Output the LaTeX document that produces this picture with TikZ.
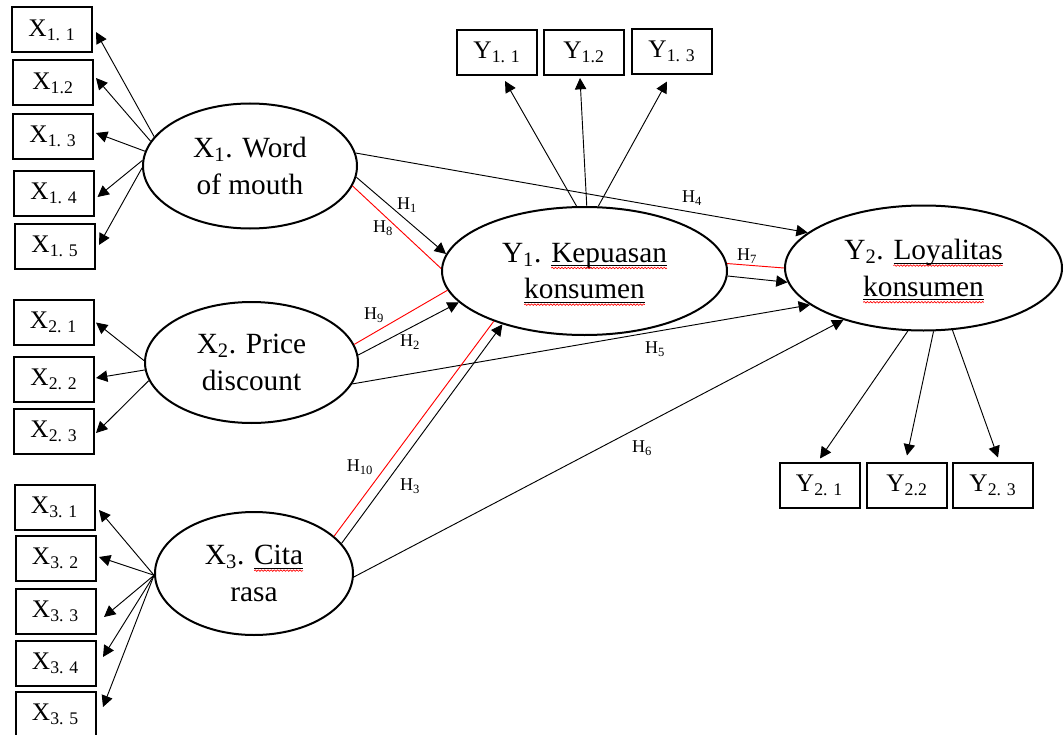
\documentclass[tikz,border=0pt]{standalone}
\usepackage{fontspec}
\setmainfont{Liberation Serif}
\usetikzlibrary{shapes.geometric,arrows.meta,calc,decorations.pathmorphing}
\newsavebox\spbox
\newlength\spw
\newcommand\spell[1]{\sbox\spbox{#1}\setlength\spw{\wd\spbox}\rlap{\usebox\spbox}\tikz[baseline=0pt,x=1pt,y=1pt]{\useasboundingbox (0pt,0pt) rectangle (\spw,1pt); \draw[line width=0.55pt,black] (0pt,-2.4pt) -- (\spw,-2.4pt); \draw[red,line width=0.5pt,decorate,decoration={snake,amplitude=0.55pt,segment length=2.4pt}] (0pt,-4.4pt) -- (\spw,-4.4pt);}}
\tikzset{
  lat/.style={ellipse, draw, line width=1.5pt, inner sep=0pt, align=center, font=\fontsize{22}{27.5}\selectfont},
  ind/.style={draw, line width=1.5pt, minimum width=60pt, minimum height=33.75pt, inner sep=0pt, font=\fontsize{19}{22}\selectfont},
  arr/.style={-{Triangle[length=8.5pt,width=8.5pt]}, line width=0.7pt},
  redln/.style={draw=red, line width=0.7pt},
  hl/.style={font=\fontsize{13.5}{15}\selectfont, inner sep=0pt}
}
\begin{document}
\begin{tikzpicture}[x=0.75pt,y=-0.75pt]
\useasboundingbox[fill=white] (0,0) rectangle (1064,735);
% latent variables
\node[lat, minimum width=160.5pt, minimum height=93.75pt] (X1) at (250,166) {X\textsubscript{1}. Word\\of mouth};
\node[lat, minimum width=159.75pt, minimum height=90.75pt] (X2) at (251.5,362.5) {X\textsubscript{2}. Price\\discount};
\node[lat, minimum width=148.5pt, minimum height=92.25pt] (X3) at (254,573.5) {X\textsubscript{3}. \spell{Cita}\\rasa};
\node[lat, minimum width=213.75pt, minimum height=96pt] (Y1) at (584.5,271) {Y\textsubscript{1}. \spell{Kepuasan}\\\spell{konsumen}};
\node[lat, minimum width=207.75pt, minimum height=93.75pt] (Y2) at (923.5,268) {Y\textsubscript{2}. \spell{Loyalitas}\\\spell{konsumen}};
% indicators
\node[ind] (x11) at (52,30) {X\textsubscript{1. 1}};
\node[ind] (x12) at (53,83) {X\textsubscript{1.2}};
\node[ind] (x13) at (53,136.5) {X\textsubscript{1. 3}};
\node[ind] (x14) at (54,193.5) {X\textsubscript{1. 4}};
\node[ind] (x15) at (55,246.5) {X\textsubscript{1. 5}};
\node[ind] (x21) at (53.5,322.5) {X\textsubscript{2. 1}};
\node[ind] (x22) at (54,379) {X\textsubscript{2. 2}};
\node[ind] (x23) at (54,431.5) {X\textsubscript{2. 3}};
\node[ind] (x31) at (54.5,507) {X\textsubscript{3. 1}};
\node[ind] (x32) at (55.5,558.5) {X\textsubscript{3. 2}};
\node[ind] (x33) at (55.5,611.5) {X\textsubscript{3. 3}};
\node[ind] (x34) at (55.5,663.5) {X\textsubscript{3. 4}};
\node[ind] (x35) at (55.5,714) {X\textsubscript{3. 5}};
\node[ind] (y11) at (497,52.5) {Y\textsubscript{1. 1}};
\node[ind] (y12) at (584,52.5) {Y\textsubscript{1.2}};
\node[ind] (y13) at (672,51.5) {Y\textsubscript{1. 3}};
\node[ind] (y21) at (819.5,485) {Y\textsubscript{2. 1}};
\node[ind] (y22) at (907,485) {Y\textsubscript{2.2}};
\node[ind] (y23) at (993,485) {Y\textsubscript{2. 3}};
% indicator arrows
\draw[arr] (X1.163) -- ($(x11.east)+(3,2)$);
\draw[arr] (X1.166) -- ($(x12.east)+(2,-5)$);
\draw[arr] (X1.172) -- ($(x13.east)+(2,-3.5)$);
\draw[arr] (X1.177) -- ($(x14.east)+(2.5,3.5)$);
\draw[arr] (X1.181) -- ($(x15.east)+(3,-1.5)$);
\draw[arr] (X2.179) -- ($(x21.east)+(1.5,0)$);
\draw[arr] (X2.184) -- ($(x22.east)+(1,-1)$);
\draw[arr] (X2.190) -- ($(x23.east)+(1,1.5)$);
\draw[arr] (X3.181) -- ($(x31.east)+(3.5,3)$);
\draw[arr] (X3.181) -- ($(x32.east)+(2.5,-1.5)$);
\draw[arr] (X3.181) -- ($(x33.east)+(7.5,5.5)$);
\draw[arr] (X3.181) -- ($(x34.east)+(6.5,-6.5)$);
\draw[arr] (X3.181) -- ($(x35.east)+(6.5,-7)$);
\draw[arr] (Y1.97) -- ($(y11.south)+(8,5)$);
\draw[arr] (Y1.88) -- ($(y12.south)+(-4,2)$);
\draw[arr] (Y1.78) -- ($(y13.south)+(-5,6.5)$);
\draw[arr] (Y2.-104) -- ($(y21.north)+(0.5,-3)$);
\draw[arr] (Y2.-81) -- ($(y22.north)+(0,-6)$);
\draw[arr] (Y2.-65) -- ($(y23.north)+(5,-4)$);
% structural paths
\draw[arr] (X1.7) -- (Y2.163);
\draw[arr] (X1.-6) -- (Y1.173);
\draw[redln] (X1.-11) -- (Y1.179);
\draw[redln] (X2.10) -- (Y1.188);
\draw[arr] (X2.4) -- (Y1.194);
\draw[redln] (Y1.3) -- (Y2.180);
\draw[arr] (Y1.-2) -- (Y2.186);
\draw[arr] (X2.-12) -- (Y2.198);
\draw[arr] (X3.-2) -- (Y2.213);
\draw[arr] (X3.19.5) -- (Y1.213);
\draw[redln] (X3.25) -- (Y1.209);
% labels
\node[hl] (h1) at (407,205) {H\textsubscript{1}};
\node[hl] (h8) at (383,228) {H\textsubscript{8}};
\node[hl] (h4) at (692,198) {H\textsubscript{4}};
\node[hl] (h7) at (747,256) {H\textsubscript{7}};
\node[hl] (h9) at (374,315) {H\textsubscript{9}};
\node[hl] (h2) at (410,342) {H\textsubscript{2}};
\node[hl] (h5) at (655,349) {H\textsubscript{5}};
\node[hl] (h6) at (642,448) {H\textsubscript{6}};
\node[hl] (h10) at (360,467) {H\textsubscript{10}};
\node[hl] (h3) at (410,486) {H\textsubscript{3}};
\end{tikzpicture}
\end{document}
